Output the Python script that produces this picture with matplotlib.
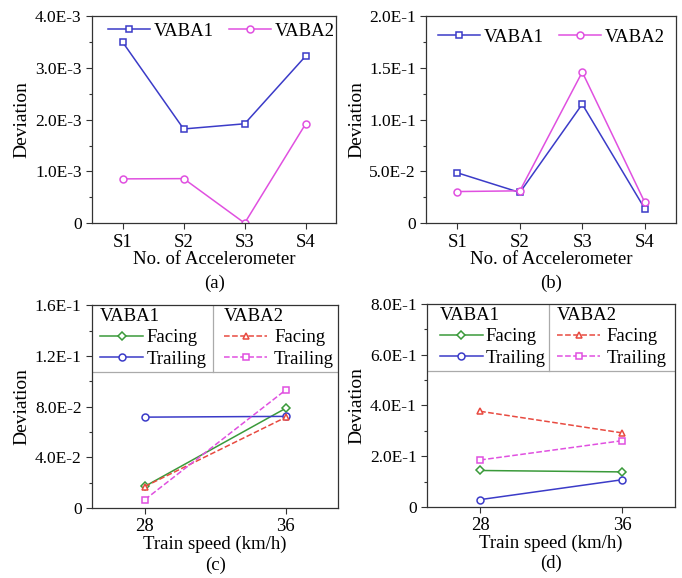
import numpy as np
import matplotlib
matplotlib.use('Agg')
import matplotlib.pyplot as plt
from matplotlib.patches import Rectangle
from matplotlib.lines import Line2D

plt.rcParams['font.family'] = ['Liberation Serif', 'DejaVu Serif']
plt.rcParams['font.size'] = 12.5

blue = '#3b3bc8'
magenta = '#e050e0'
green = '#3a9a3a'
red = '#e84a40'
spine_col = '#333333'

# (a), (b)
sensors = ['S1', 'S2', 'S3', 'S4']
a_vaba1 = [3.50e-3, 1.82e-3, 1.92e-3, 3.23e-3]
a_vaba2 = [0.855e-3, 0.86e-3, 0.0, 1.92e-3]
b_vaba1 = [0.0486, 0.0296, 0.115, 0.0141]
b_vaba2 = [0.0305, 0.0312, 0.146, 0.0203]

# (c), (d)
speeds = [28, 36]
c_facing1 = [0.0171, 0.0786]
c_trailing1 = [0.0717, 0.0723]
c_facing2 = [0.0170, 0.0715]
c_trailing2 = [0.0066, 0.0930]
d_facing1 = [0.1436, 0.138]
d_trailing1 = [0.0287, 0.107]
d_facing2 = [0.377, 0.292]
d_trailing2 = [0.185, 0.261]

fig = plt.figure(figsize=(6.82, 5.78), dpi=100)
ax_a = fig.add_axes([0.135, 0.614, 0.358, 0.358])
ax_b = fig.add_axes([0.625, 0.614, 0.366, 0.358])
ax_c = fig.add_axes([0.135, 0.121, 0.361, 0.351])
ax_d = fig.add_axes([0.626, 0.123, 0.364, 0.351])

FS = 13.5


def style(ax):
    for s in ax.spines.values():
        s.set_color(spine_col)
        s.set_linewidth(0.9)
        s.set_zorder(8)
    ax.tick_params(direction='out', length=4, width=0.8, color=spine_col, top=False, right=False)
    ax.tick_params(which='minor', direction='out', length=2.5, width=0.8, color=spine_col)
    ax.set_ylabel('Deviation', fontsize=14, labelpad=3)


def yticks(ax, vals, labels):
    ax.set_yticks(vals)
    ax.set_yticklabels(labels)
    step = vals[1] - vals[0]
    ax.set_yticks(np.arange(step / 2, vals[-1], step), minor=True)
    ax.set_ylim(vals[0], vals[-1])


x = np.arange(1, 5)
for ax, v1, v2, tv, tl, lab, lx, ly in [
        (ax_a, a_vaba1, a_vaba2, [0, 1e-3, 2e-3, 3e-3, 4e-3],
         ['0', '1.0E-3', '2.0E-3', '3.0E-3', '4.0E-3'], '(a)', 0.53, 0.97),
        (ax_b, b_vaba1, b_vaba2, [0, 0.05, 0.1, 0.15, 0.2],
         ['0', '5.0E-2', '1.0E-1', '1.5E-1', '2.0E-1'], '(b)', 0.5, 0.94)]:
    ax.plot(x, v1, '-s', color=blue, lw=1.1, ms=4.5, mfc='white', mew=1.1, label='VABA1')
    ax.plot(x, v2, '-o', color=magenta, lw=1.1, ms=5, mfc='white', mew=1.1, label='VABA2')
    style(ax)
    yticks(ax, tv, tl)
    ax.set_xticks(x)
    ax.set_xticklabels(sensors, fontsize=FS)
    ax.set_xlim(0.5, 4.5)
    ax.set_xlabel('No. of Accelerometer', fontsize=FS, labelpad=0)
    ax.legend(loc='upper center', ncol=2, frameon=False, fontsize=FS, handlelength=2.25,
              columnspacing=0.8, handletextpad=0.2, borderaxespad=0, borderpad=0,
              bbox_to_anchor=(lx, ly))
    ax.text(0.5, -0.29, lab, transform=ax.transAxes, ha='center', va='center', fontsize=FS)

for ax, f1, t1, f2, t2, tv, tl, lab, p1, p2 in [
        (ax_c, c_facing1, c_trailing1, c_facing2, c_trailing2, [0, 0.04, 0.08, 0.12, 0.16],
         ['0', '4.0E-2', '8.0E-2', '1.2E-1', '1.6E-1'], '(c)', 0.033, 0.537),
        (ax_d, d_facing1, d_trailing1, d_facing2, d_trailing2, [0, 0.2, 0.4, 0.6, 0.8],
         ['0', '2.0E-1', '4.0E-1', '6.0E-1', '8.0E-1'], '(d)', 0.052, 0.524)]:
    l1, = ax.plot(speeds, f1, '-D', color=green, lw=1.1, ms=4.5, mfc='white', mew=1.1)
    l2, = ax.plot(speeds, t1, '-o', color=blue, lw=1.1, ms=5, mfc='white', mew=1.1)
    l3, = ax.plot(speeds, f2, '--^', color=red, lw=1.1, ms=5, mfc='white', mew=1.1)
    l4, = ax.plot(speeds, t2, '--s', color=magenta, lw=1.1, ms=4.5, mfc='white', mew=1.1)
    style(ax)
    yticks(ax, tv, tl)
    ax.set_xticks(speeds)
    ax.set_xticklabels(['28', '36'], fontsize=FS)
    ax.set_xlim(25, 39)
    ax.set_xlabel('Train speed (km/h)', fontsize=FS, labelpad=0)
    ax.text(0.5, -0.28, lab, transform=ax.transAxes, ha='center', va='center', fontsize=FS)
    # legend box across the top of the axes
    ax.add_patch(Rectangle((0, 0.67), 1, 0.33, transform=ax.transAxes, facecolor='white',
                           edgecolor='none', zorder=5))
    ax.add_line(Line2D([0, 1], [0.67, 0.67], transform=ax.transAxes, color='#aaaaaa', lw=0.9, zorder=6))
    ax.add_line(Line2D([0.49, 0.49], [0.67, 1], transform=ax.transAxes, color='#aaaaaa', lw=0.9, zorder=6))
    leg1 = ax.legend([l1, l2], ['Facing', 'Trailing'], title='VABA1', loc='upper left',
                     bbox_to_anchor=(p1, 0.985), frameon=False, fontsize=FS, title_fontsize=FS,
                     alignment='left', handlelength=2.3, handletextpad=0.15, labelspacing=0.22,
                     borderpad=0, borderaxespad=0)
    leg1.set_zorder(7)
    ax.add_artist(leg1)
    leg2 = ax.legend([l3, l4], ['Facing', 'Trailing'], title='VABA2', loc='upper left',
                     bbox_to_anchor=(p2, 0.985), frameon=False, fontsize=FS, title_fontsize=FS,
                     alignment='left', handlelength=2.3, handletextpad=0.35, labelspacing=0.22,
                     borderpad=0, borderaxespad=0)
    leg2.set_zorder(7)

fig.savefig('out.png', dpi=100)
